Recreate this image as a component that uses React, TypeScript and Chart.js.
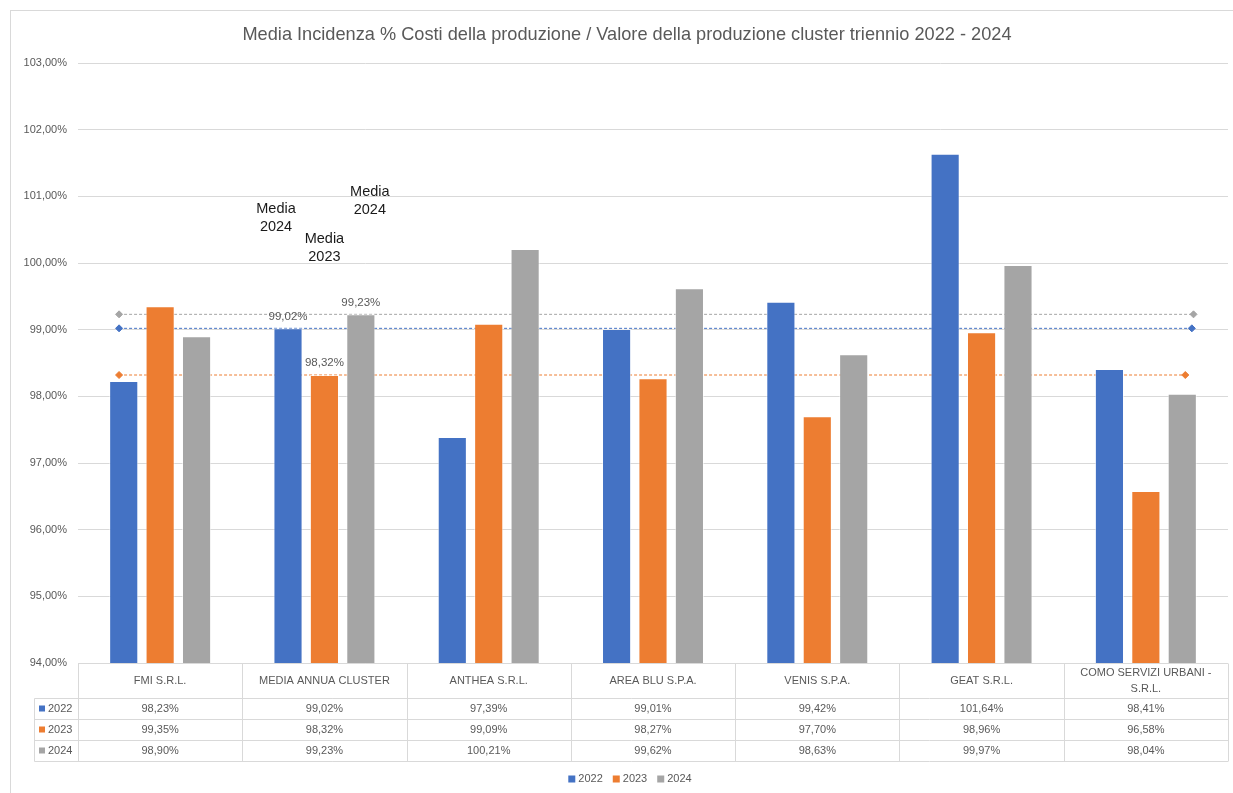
import React, { useEffect, useRef } from "react";
import { Chart, registerables } from "chart.js";

Chart.register(...registerables);

const title =
  "Media Incidenza % Costi della produzione / Valore della produzione cluster triennio 2022 - 2024";
const categories = [
  "FMI S.R.L.",
  "MEDIA ANNUA CLUSTER",
  "ANTHEA S.R.L.",
  "AREA BLU S.P.A.",
  "VENIS S.P.A.",
  "GEAT S.R.L.",
  "COMO SERVIZI URBANI - S.R.L.",
];
const seriesNames = ["2022", "2023", "2024"];
const values2022 = [98.23, 99.02, 97.39, 99.01, 99.42, 101.64, 98.41];
const values2023 = [99.35, 98.32, 99.09, 98.27, 97.7, 98.96, 96.58];
const values2024 = [98.9, 99.23, 100.21, 99.62, 98.63, 99.97, 98.04];
const means = [99.02, 98.32, 99.23];
const colors = ["#4472C4", "#ED7D31", "#A5A5A5"];
const yTicks = { min: 94, max: 103, step: 1 };
const labeledCategory = "MEDIA ANNUA CLUSTER";
const mediaNotes = [
  { lines: ["Media", "2024"], series: 0, dx: -12, yValue: 100.81 },
  { lines: ["Media", "2023"], series: 1, dx: 0, yValue: 100.36 },
  { lines: ["Media", "2024"], series: 2, dx: 9, yValue: 101.06 },
];
// mean line extents, in category-index units
const meanStart = [-0.25, -0.25, -0.25];
const meanEnd = [6.28, 6.24, 6.29];

const allValues = [values2022, values2023, values2024];
const fmt = (v: number) => v.toFixed(2).replace(".", ",") + "%";
const FONT = "'Liberation Sans', Arial, sans-serif";
const TEXT = "#595959";
const LINE = "#d9d9d9";

const decorPlugin = {
  id: "decor",
  beforeDraw(chart: any) {
    const ctx = chart.ctx;
    ctx.save();
    ctx.fillStyle = "#ffffff";
    ctx.fillRect(0, 0, chart.width, chart.height);
    ctx.strokeStyle = LINE;
    ctx.lineWidth = 1;
    ctx.strokeRect(10.5, 10.5, chart.width + 20, chart.height + 20);
    ctx.restore();
  },
  afterDraw(chart: any) {
    const ctx = chart.ctx;
    const area = chart.chartArea;
    const xs = chart.scales.x;
    const ys = chart.scales.y;
    ctx.save();

    // title
    ctx.fillStyle = TEXT;
    ctx.font = `18.2px ${FONT}`;
    ctx.textAlign = "center";
    ctx.textBaseline = "middle";
    ctx.fillText(title, 627, 35);

    // data labels for the labeled category
    const ci = categories.indexOf(labeledCategory);
    ctx.font = `11.5px ${FONT}`;
    for (let s = 0; s < 3; s++) {
      const el = chart.getDatasetMeta(s).data[ci];
      ctx.fillText(fmt(allValues[s][ci]), el.x, el.y - 12);
    }

    // media notes
    ctx.fillStyle = "#1a1a1a";
    ctx.font = `14.5px ${FONT}`;
    mediaNotes.forEach((n) => {
      const el = chart.getDatasetMeta(n.series).data[ci];
      const y0 = ys.getPixelForValue(n.yValue);
      n.lines.forEach((t, i) => ctx.fillText(t, el.x + n.dx, y0 + i * 18));
    });

    // data table
    const catW = (area.right - area.left) / categories.length;
    const top = Math.round(area.bottom) + 0.5;
    const headerH = 35;
    const rowH = 21;
    const rowsTop = top + headerH;
    const tableBottom = rowsTop + rowH * 3;
    const labelLeft = 34.5;
    ctx.strokeStyle = LINE;
    ctx.lineWidth = 1;
    ctx.beginPath();
    ctx.moveTo(area.left, top);
    ctx.lineTo(area.right, top);
    for (let r = 0; r <= 3; r++) {
      const y = rowsTop + r * rowH;
      ctx.moveTo(labelLeft, y);
      ctx.lineTo(area.right, y);
    }
    for (let c = 0; c <= categories.length; c++) {
      const x = Math.round(area.left + c * catW) + 0.5;
      ctx.moveTo(x, top);
      ctx.lineTo(x, tableBottom);
    }
    ctx.moveTo(labelLeft, rowsTop);
    ctx.lineTo(labelLeft, tableBottom);
    ctx.stroke();

    ctx.fillStyle = TEXT;
    ctx.font = `11px ${FONT}`;
    ctx.textAlign = "center";
    categories.forEach((cat, c) => {
      const cx = xs.getPixelForValue(c);
      const words = cat.split(" ");
      const lines: string[] = [];
      let cur = "";
      words.forEach((w) => {
        const test = cur ? cur + " " + w : w;
        if (ctx.measureText(test).width > catW - 24 && cur) {
          lines.push(cur);
          cur = w;
        } else cur = test;
      });
      lines.push(cur);
      const lh = 16;
      const cy = top + headerH / 2 - ((lines.length - 1) * lh) / 2;
      lines.forEach((l, i) => ctx.fillText(l, cx, cy + i * lh));
      for (let s = 0; s < 3; s++) {
        ctx.fillText(fmt(allValues[s][c]), cx, rowsTop + s * rowH + rowH / 2);
      }
    });
    for (let s = 0; s < 3; s++) {
      const cy = rowsTop + s * rowH + rowH / 2;
      ctx.fillStyle = colors[s];
      ctx.fillRect(39, cy - 3.5, 6, 6);
      ctx.fillStyle = TEXT;
      ctx.textAlign = "left";
      ctx.fillText(seriesNames[s], 48, cy);
    }

    // legend
    ctx.font = `11px ${FONT}`;
    const legendY = 779;
    const itemW = seriesNames.map((n) => 10 + ctx.measureText(n).width);
    const gap = 10;
    const totalW = itemW.reduce((a, b) => a + b, 0) + gap * (itemW.length - 1);
    let lx = 630 - totalW / 2;
    seriesNames.forEach((n, s) => {
      ctx.fillStyle = colors[s];
      ctx.fillRect(lx, legendY - 3.5, 7, 7);
      ctx.fillStyle = TEXT;
      ctx.textAlign = "left";
      ctx.fillText(n, lx + 10, legendY);
      lx += itemW[s] + gap;
    });

    ctx.restore();
  },
};

export default function App() {
  const ref = useRef<HTMLCanvasElement | null>(null);
  useEffect(() => {
    if (!ref.current) return;
    const barSets = allValues.map((vals, s) => ({
      type: "bar" as const,
      label: seriesNames[s],
      data: vals,
      backgroundColor: colors[s],
      borderColor: "rgba(255,255,255,0.55)",
      borderWidth: 1,
      categoryPercentage: 0.665,
      barPercentage: 0.8,
      order: 1,
    }));
    const lineSets = means.map((m, s) => ({
      type: "line" as const,
      label: "Media " + seriesNames[s],
      parsing: false,
      data: [
        { x: meanStart[s], y: m },
        { x: meanEnd[s], y: m },
      ],
      borderColor: colors[s],
      backgroundColor: colors[s],
      borderWidth: 1,
      borderDash: [3, 2],
      pointStyle: "rectRot",
      pointRadius: 3.5,
      pointBackgroundColor: colors[s],
      pointBorderColor: colors[s],
      fill: false,
      order: 2,
    }));
    const chart = new Chart(ref.current, {
      type: "bar",
      data: {
        labels: categories,
        datasets: [...barSets, ...lineSets] as any,
      },
      options: {
        responsive: false,
        animation: false,
        layout: { padding: { top: 63, bottom: 130, left: 0, right: 4 } },
        plugins: {
          legend: { display: false },
          title: { display: false },
          tooltip: { enabled: false },
        },
        scales: {
          x: {
            type: "category",
            display: false,
            offset: true,
            min: 0,
            max: categories.length - 1,
          },
          y: {
            min: yTicks.min,
            max: yTicks.max,
            afterFit: (scale: any) => {
              scale.width = 78;
            },
            ticks: {
              stepSize: yTicks.step,
              padding: 11,
              color: TEXT,
              font: { family: FONT, size: 11 },
              callback: (v: any) => fmt(Number(v)),
            },
            grid: { color: LINE, drawTicks: false },
            border: { display: false },
          },
        },
      },
      plugins: [decorPlugin],
    });
    return () => chart.destroy();
  }, []);
  return (
    <div style={{ position: "fixed", left: 0, top: 0, width: 1233, height: 793, background: "#fff" }}>
      <canvas ref={ref} width={1233} height={793} style={{ display: "block" }} />
    </div>
  );
}
